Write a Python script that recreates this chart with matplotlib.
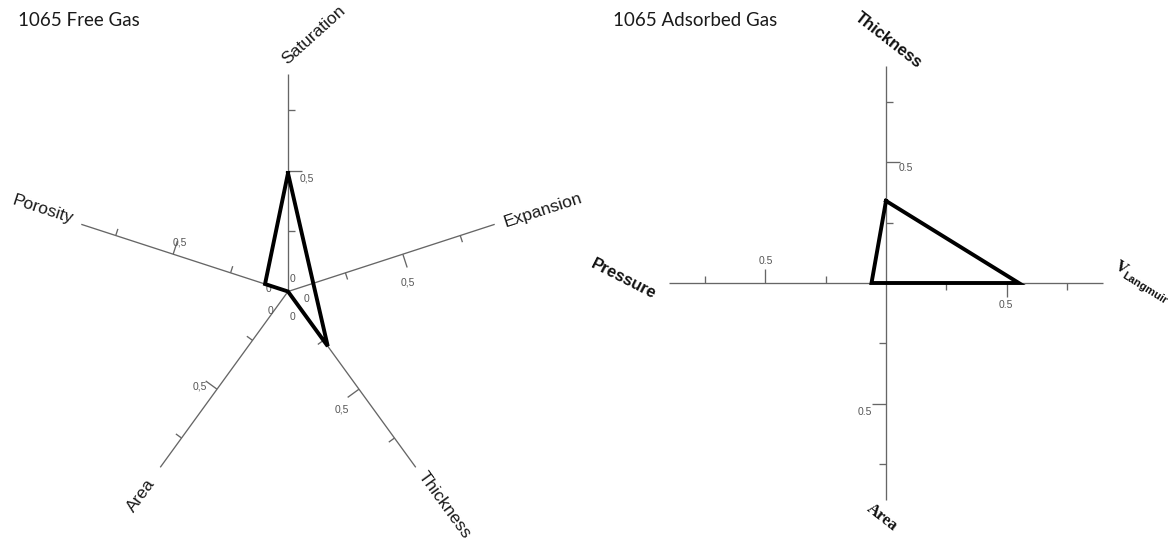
import numpy as np
import matplotlib
matplotlib.use("Agg")
import matplotlib.pyplot as plt

# ---- data -------------------------------------------------------------
free_axes = ["Saturation", "Expansion", "Thickness", "Area", "Porosity"]
free_values = [0.49, 0.11, 0.28, 0.0, 0.10]

ads_axes = ["Thickness", "VLangmuir", "Area", "Pressure"]
ads_values = [0.34, 0.55, 0.0, 0.06]

tick_values = [0.25, 0.5, 0.75]
labelled_tick = 0.5
axis_max = 0.9
free_tick_text = "0,5"
ads_tick_text = "0.5"
zero_text = "0"

# ---- layout -----------------------------------------------------------
W, H = 1169, 544
PX = 241.5                       # pixels per unit radius
free_angles = [90, 18, -54, -126, 162]
ads_angles = [90, 0, -90, 180]
AXIS_C = "#666666"
TICK_C = "#555555"
SANS = "Liberation Sans"
SERIF = "Liberation Serif"

fig = plt.figure(figsize=(W / 100, H / 100), dpi=100)
fig.patch.set_facecolor("white")


def make_ax(x0, x1, cx, cy):
    ax = fig.add_axes([x0 / W, 0, (x1 - x0) / W, 1])
    ax.set_xlim((x0 - cx) / PX, (x1 - cx) / PX)
    ax.set_ylim((cy - H) / PX, cy / PX)
    ax.axis("off")
    return ax


def draw_spokes(ax, angles, tick_text, label_offsets):
    for ang, off in zip(angles, label_offsets):
        a = np.deg2rad(ang)
        u = np.array([np.cos(a), np.sin(a)])
        n = np.array([np.cos(a - np.pi / 2), np.sin(a - np.pi / 2)])
        ax.plot([0, axis_max * u[0]], [0, axis_max * u[1]],
                color=AXIS_C, lw=0.95, solid_capstyle="butt", zorder=1)
        for t in tick_values:
            p = t * u
            ln = (14 if t == labelled_tick else 7) / PX
            q = p + ln * n
            ax.plot([p[0], q[0]], [p[1], q[1]], color=AXIS_C, lw=0.95,
                    solid_capstyle="butt", zorder=1)
        p = labelled_tick * u
        ax.annotate(tick_text, xy=(p[0], p[1]), xytext=(off[0], -off[1]),
                    textcoords="offset pixels", ha="center", va="center",
                    fontsize=7.5, color=TICK_C, family=SANS)


def draw_polygon(ax, angles, values):
    a = np.deg2rad(np.array(angles + angles[:1], dtype=float))
    r = np.array(values + values[:1], dtype=float)
    ax.plot(r * np.cos(a), r * np.sin(a), color="black", lw=2.8,
            solid_joinstyle="miter", zorder=3)


def ftext(px, py, s, **kw):
    kw.setdefault("ha", "center")
    kw.setdefault("va", "center")
    kw.setdefault("rotation_mode", "anchor")
    fig.text(px / W, 1 - py / H, s, **kw)


# ---- left: free gas ---------------------------------------------------
axL = make_ax(0, 580, 288, 291.5)
draw_spokes(axL, free_angles, free_tick_text,
            [(19, 8), (5, 28), (-17, 20), (-17, -3), (7, -12)])
for off in [(5, -13), (19, 7), (5, 26), (-17, 19), (-20, -2)]:
    axL.annotate(zero_text, xy=(0, 0), xytext=(off[0], -off[1]),
                 textcoords="offset pixels", ha="center", va="center",
                 fontsize=7.5, color=TICK_C, family=SANS, zorder=2)
draw_polygon(axL, free_angles, free_values)

left_label_pos = [(314, 35, 42), (543, 210, 18), (444, 505, -54),
                  (141, 495, 54), (43, 210, -18)]
for name, (px, py, rot) in zip(free_axes, left_label_pos):
    ftext(px, py, name, rotation=rot, fontsize=12.5, family=SANS,
          color="#1a1a1a")

# ---- right: adsorbed gas ---------------------------------------------
axR = make_ax(585, 1169, 886, 283)
draw_spokes(axR, ads_angles, ads_tick_text,
            [(20, 6), (-1, 22), (-21, 8), (1, -22)])
draw_polygon(axR, ads_angles, ads_values)

ftext(888, 40, ads_axes[0], rotation=-38, fontsize=12, family=SANS,
      weight="bold", color="#111111")
ftext(624, 279, ads_axes[3], rotation=-27, fontsize=12, family=SANS,
      weight="bold", color="#111111")
ftext(882, 518, ads_axes[2], rotation=-38, fontsize=12, family=SERIF,
      weight="bold", color="#111111")
ftext(1121, 268, ads_axes[1][0], rotation=-32, fontsize=12, family=SERIF,
      weight="bold", color="#111111")
ftext(1145, 288, ads_axes[1][1:], rotation=-32, fontsize=8, family=SANS,
      weight="bold", color="#111111")

# ---- titles -----------------------------------------------------------
ftext(18, 26, "1065 Free Gas", ha="left", va="baseline", fontsize=13.5,
      family="Lato", color="#1a1a1a")
ftext(613, 26, "1065 Adsorbed Gas", ha="left", va="baseline", fontsize=13.5,
      family="Lato", color="#1a1a1a")

fig.savefig("out.png", dpi=100, facecolor="white")
